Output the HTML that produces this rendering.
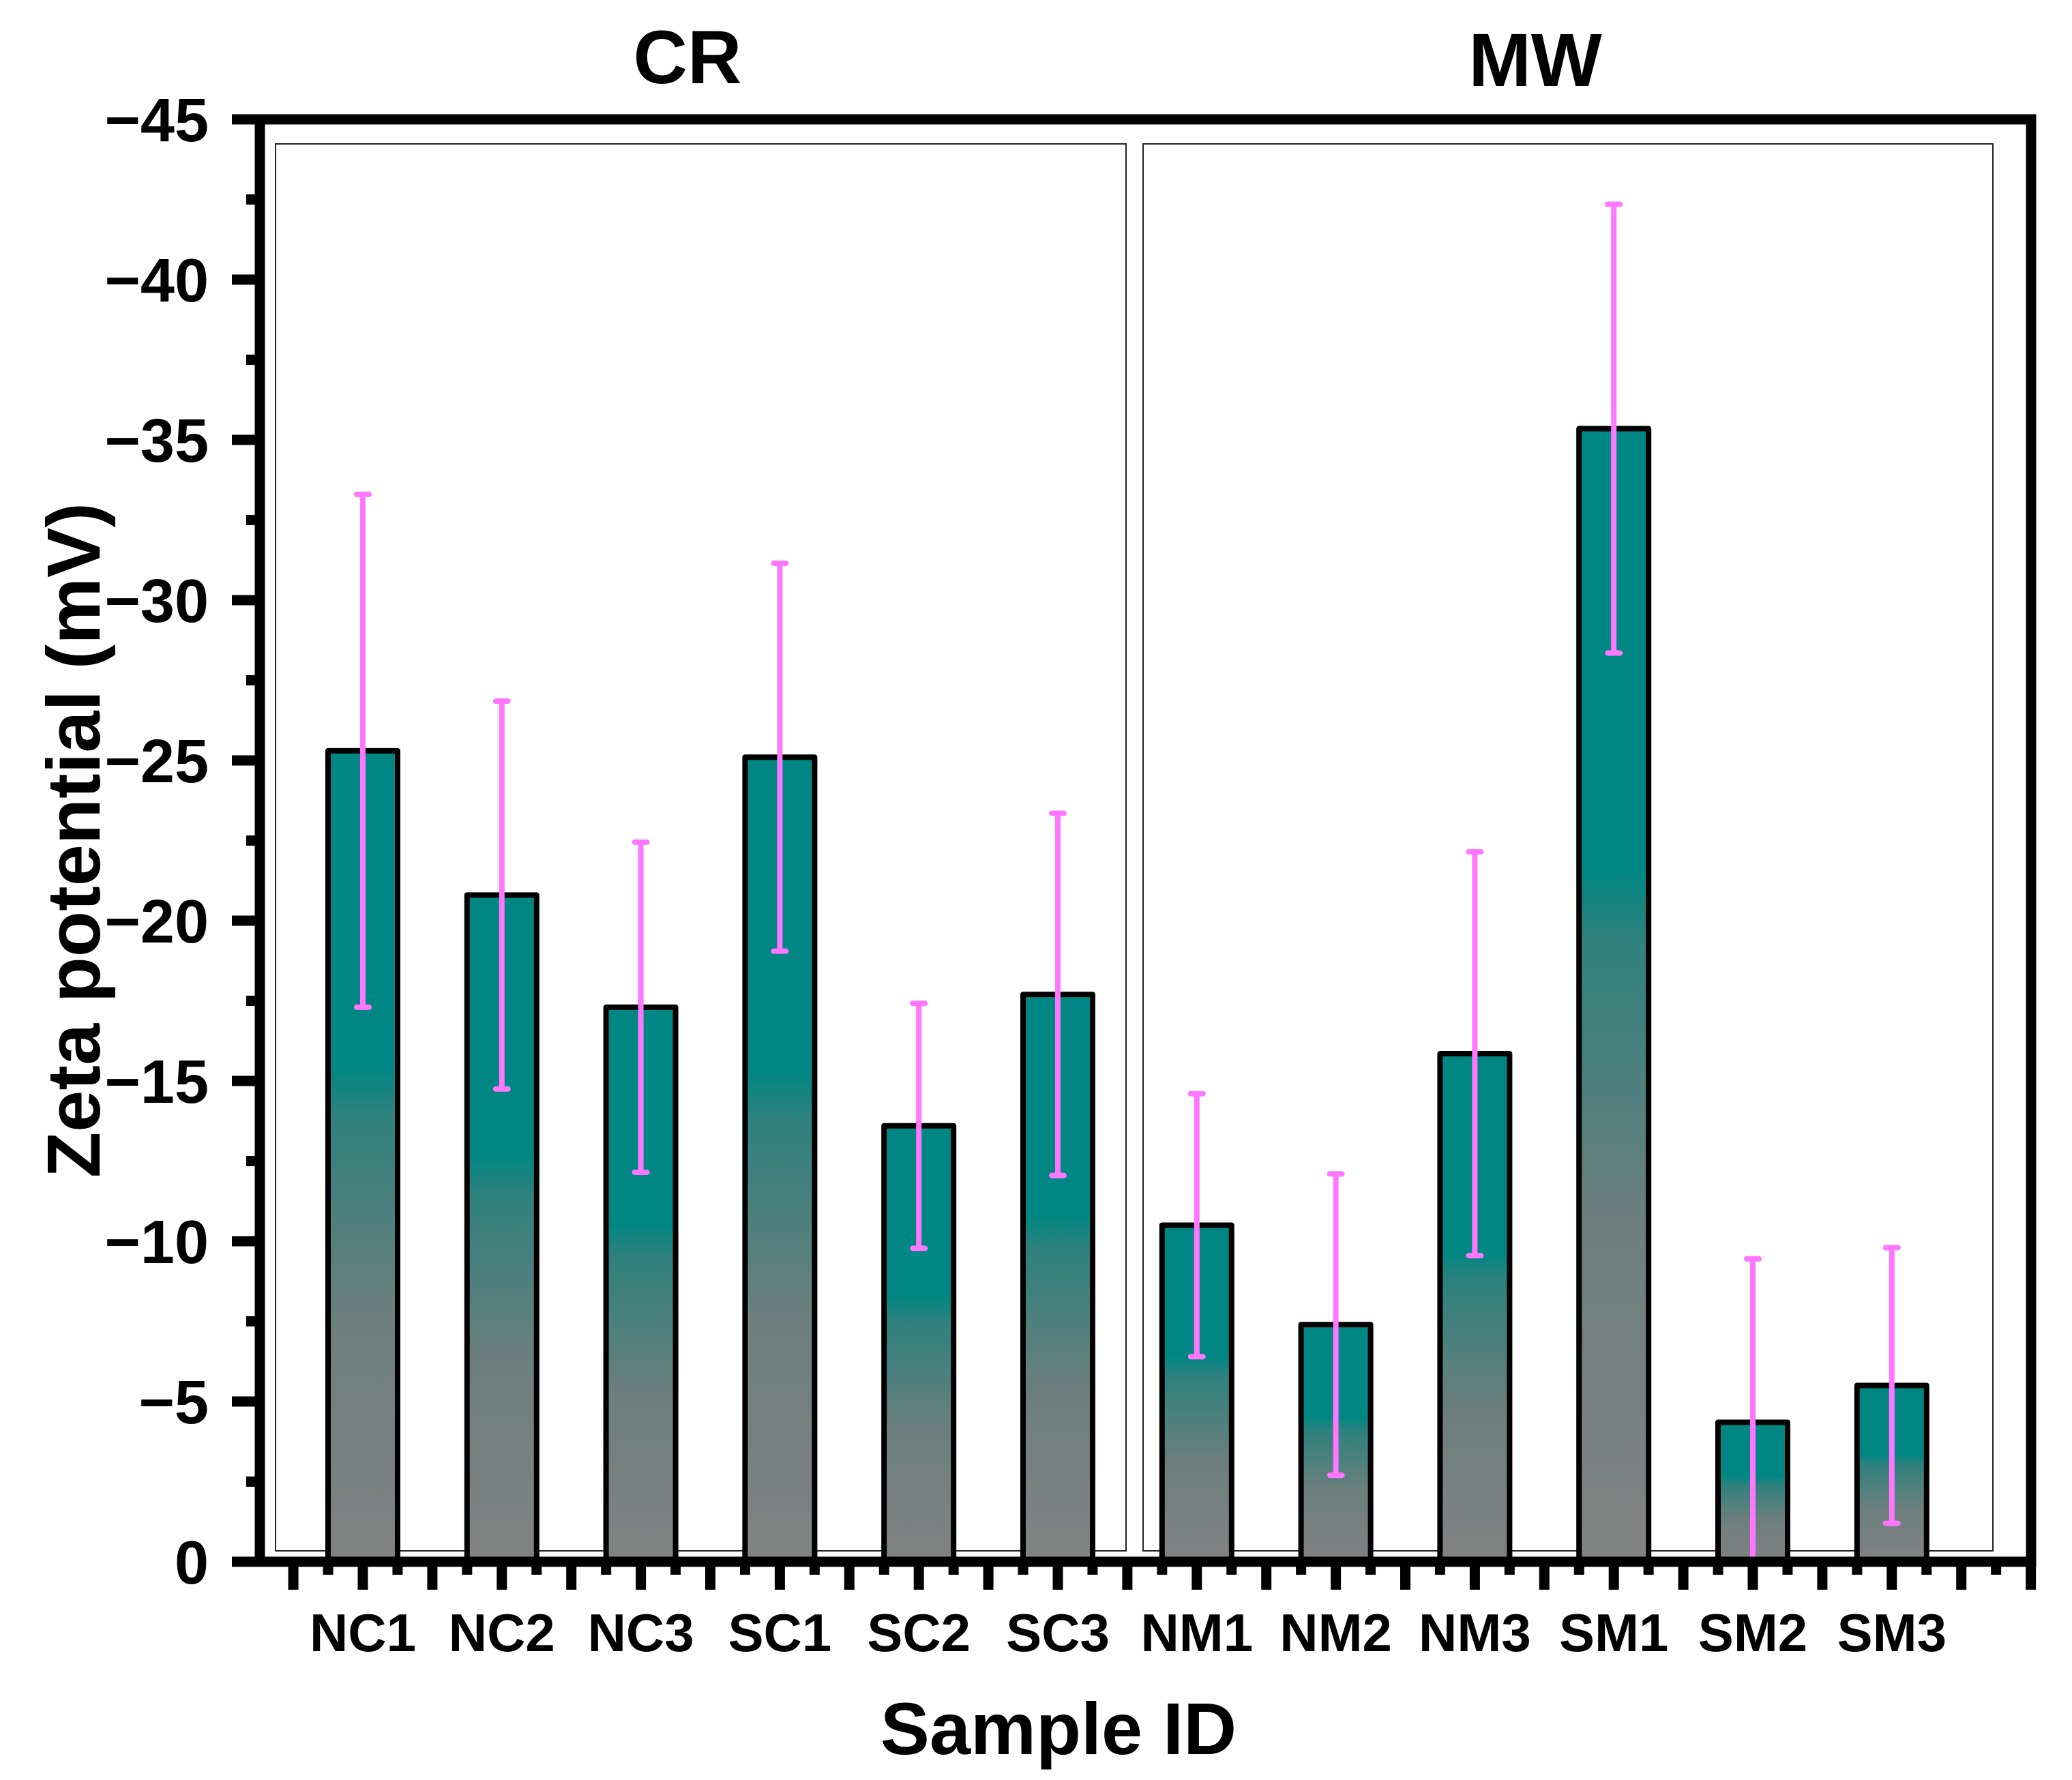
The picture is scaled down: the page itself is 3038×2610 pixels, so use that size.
<!DOCTYPE html>
<html><head><meta charset="utf-8"><style>
html,body{margin:0;padding:0;background:#fff;}
svg{display:block;font-family:"Liberation Sans",Arial,sans-serif;font-weight:bold;}
</style></head><body>
<svg id="chart" xmlns="http://www.w3.org/2000/svg" width="3038" height="2610" viewBox="0 0 3038 2610">
<defs>
<linearGradient id="barGrad" x1="0" y1="0" x2="0" y2="1">
<stop offset="0" stop-color="#008783"/>
<stop offset="0.39" stop-color="#008783"/>
<stop offset="0.45" stop-color="#2f817e"/>
<stop offset="0.7" stop-color="#6c7f7d"/>
<stop offset="1" stop-color="#828282"/>
</linearGradient>
</defs>
<g id="frames"></g>
<g id="bars"></g>
<g id="errs"></g>
<g id="axes"></g>
<g id="labels"></g>
</svg>
<script>
const categories = ["NC1","NC2","NC3","SC1","SC2","SC3","NM1","NM2","NM3","SM1","SM2","SM3"];
const values = [25.3, 20.8, 17.3, 25.1, 13.6, 17.7, 10.5, 7.4, 15.85, 35.35, 4.35, 5.5];
const errors = [8.0, 6.05, 5.15, 6.05, 3.82, 5.65, 4.1, 4.7, 6.3, 7.0, 5.1, 4.3];
const yTicks = [0, -5, -10, -15, -20, -25, -30, -35, -40, -45];
const groups = ["CR", "MW"];

const NS = "http://www.w3.org/2000/svg";
const X0 = 381, X1 = 2978, Y0 = 2290, YT = 175;
const unit = (Y0 - YT) / 45;
const yScale = v => Y0 - v * unit;
const step = 203.8, first = 532;
const xScale = i => first + i * step;
const barW = 102;

function mk(tag, attrs, parent){const e=document.createElementNS(NS,tag);for(const k in attrs)e.setAttribute(k,attrs[k]);parent.appendChild(e);return e;}
const gF=document.getElementById('frames'),gB=document.getElementById('bars'),gE=document.getElementById('errs'),gA=document.getElementById('axes'),gL=document.getElementById('labels');

let f1=mk('rect',{x:404,y:211,width:1247,height:2063,fill:'none',stroke:'#222','stroke-width':2},gF);


let f2=mk('rect',{x:1676,y:211,width:1246,height:2063,fill:'none',stroke:'#222','stroke-width':2},gF);



categories.forEach((c,i)=>{
  const cx=xScale(i), top=yScale(values[i]);
  const r=mk('rect',{x:cx-barW/2,y:top,width:barW,height:Y0-top,fill:'url(#barGrad)',stroke:'#000','stroke-width':8,'stroke-linejoin':'round'},gB);
  
  
  const hi=yScale(values[i]+errors[i]), lo=yScale(Math.max(0,values[i]-errors[i]));
  const g=mk('g',{stroke:'#ff77ff','stroke-linecap':'round'},gE);
  
  
  mk('line',{x1:cx,y1:hi,x2:cx,y2:lo,'stroke-width':8,'stroke-linecap':'butt'},g);
  mk('line',{x1:cx-9,y1:hi,x2:cx+9,y2:hi,'stroke-width':8},g);
  if(values[i]-errors[i]>0) mk('line',{x1:cx-9,y1:lo,x2:cx+9,y2:lo,'stroke-width':8},g);
  const t=mk('text',{x:cx,y:2421,'font-size':78,'text-anchor':'middle',fill:'#000'},gL);
  t.textContent=c;
  
  
});

const box=mk('rect',{x:X0,y:YT,width:X1-X0,height:Y0-YT,fill:'none',stroke:'#000','stroke-width':15},gA);



yTicks.forEach(v=>{
  const y=yScale(-v);
  mk('line',{x1:340,y1:y,x2:X0,y2:y,stroke:'#000','stroke-width':15},gA);
  const t=mk('text',{x:306,y:y+32,'font-size':90,'text-anchor':'end',fill:'#000'},gL);
  t.textContent=v===0?'0':'\u2212'+Math.abs(v);
  
  
  if(v>-45){
    const ym=yScale(-v+2.5);
    mk('line',{x1:361,y1:ym,x2:X0,y2:ym,stroke:'#000','stroke-width':15},gA);
  }
});

const half=step/2;
for(let k=-1;k<=24;k++){
  const x=first+k*half;
  if(x<X0-1||x>X1+1) continue;
  mk('line',{x1:x,y1:Y0,x2:x,y2:2331,stroke:'#000','stroke-width':15},gA);
}
for(let k=-2;k<=24;k++){
  const x=first+k*half+half/2;
  if(x<X0-1||x>X1+1) continue;
  mk('line',{x1:x,y1:Y0,x2:x,y2:2309,stroke:'#000','stroke-width':15},gA);
}

[[groups[0],1008,122],[groups[1],2251,126]].forEach(([g,x,y])=>{
  const t=mk('text',{x:x,y:y,'font-size':110,'text-anchor':'middle',fill:'#000'},gL);
  t.textContent=g;
  
  
});

const xt=mk('text',{x:1552,y:2572,'font-size':108,'text-anchor':'middle',fill:'#000'},gL);
xt.textContent='Sample ID';


const yt=mk('text',{x:0,y:0,'font-size':110,'text-anchor':'middle',fill:'#000',transform:'translate(146,1232) rotate(-90)'},gL);
yt.textContent='Zeta potential (mV)';


</script>
</body></html>
